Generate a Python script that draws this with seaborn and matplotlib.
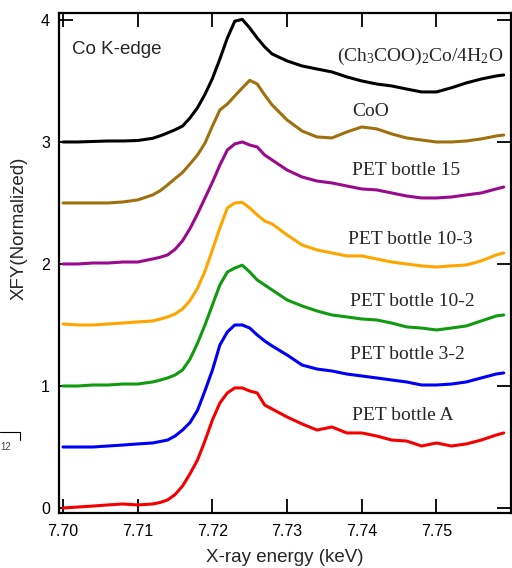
import numpy as np
import pandas as pd
import matplotlib
matplotlib.use("Agg")
import matplotlib.pyplot as plt
from matplotlib.lines import Line2D
import seaborn as sns

# ---------------- data ----------------
energy = [7.700, 7.702, 7.704, 7.706, 7.708, 7.710, 7.712, 7.713, 7.714, 7.715,
          7.716, 7.717, 7.718, 7.719,
          7.720, 7.721, 7.722, 7.723, 7.724, 7.725, 7.726, 7.727, 7.728,
          7.730, 7.732, 7.734, 7.736, 7.738, 7.740, 7.742, 7.744, 7.746, 7.748,
          7.750, 7.752, 7.754, 7.756, 7.758, 7.759]

acetate = [3.0, 3.0, 3.004, 3.008, 3.008, 3.012, 3.03, 3.05, 3.074, 3.10,
           3.13, 3.197, 3.28, 3.39,
           3.52, 3.68, 3.852, 3.99, 4.005, 3.934, 3.852, 3.779, 3.721,
           3.664, 3.623, 3.598, 3.574, 3.533, 3.5, 3.475, 3.459, 3.434, 3.41,
           3.41, 3.444, 3.484, 3.516, 3.541, 3.549]

coo = [2.5, 2.5, 2.5, 2.5, 2.508, 2.525, 2.566, 2.60, 2.648, 2.70,
       2.75, 2.82, 2.893, 2.99,
       3.13, 3.262, 3.311, 3.377, 3.443, 3.505, 3.475, 3.385, 3.303,
       3.18, 3.09, 3.041, 3.033, 3.082, 3.123, 3.107, 3.066, 3.033, 3.016,
       3.0, 3.0, 3.008, 3.025, 3.049, 3.057]

pet15 = [2.0, 2.0, 2.008, 2.008, 2.016, 2.016, 2.041, 2.055, 2.074, 2.12,
         2.19, 2.29, 2.41, 2.54,
         2.67, 2.811, 2.934, 2.984, 3.0, 2.975, 2.959, 2.893, 2.852,
         2.77, 2.713, 2.68, 2.664, 2.639, 2.615, 2.607, 2.582, 2.557, 2.541,
         2.541, 2.549, 2.566, 2.582, 2.615, 2.631]

pet10_3 = [1.508, 1.5, 1.5, 1.508, 1.516, 1.525, 1.533, 1.548, 1.566, 1.59,
           1.631, 1.70, 1.80, 1.94,
           2.115, 2.295, 2.459, 2.5, 2.505, 2.459, 2.402, 2.352, 2.328,
           2.238, 2.156, 2.115, 2.09, 2.066, 2.066, 2.041, 2.016, 2.0, 1.984,
           1.975, 1.984, 1.992, 2.025, 2.074, 2.09]

pet10_2 = [1.0, 1.0, 1.008, 1.008, 1.016, 1.016, 1.033, 1.048, 1.066, 1.09,
           1.131, 1.22, 1.35, 1.50,
           1.664, 1.828, 1.934, 1.967, 1.99, 1.934, 1.869, 1.828, 1.787,
           1.705, 1.656, 1.615, 1.582, 1.566, 1.549, 1.541, 1.516, 1.484, 1.475,
           1.459, 1.475, 1.492, 1.533, 1.574, 1.582]

pet3_2 = [0.5, 0.5, 0.5, 0.508, 0.516, 0.525, 0.533, 0.545, 0.557, 0.59,
          0.639, 0.70, 0.80, 0.96,
          1.13, 1.336, 1.443, 1.5, 1.5, 1.475, 1.418, 1.369, 1.328,
          1.254, 1.172, 1.139, 1.123, 1.098, 1.082, 1.066, 1.049, 1.033, 1.008,
          1.008, 1.016, 1.033, 1.066, 1.098, 1.107]

petA = [0.0, 0.008, 0.016, 0.025, 0.033, 0.025, 0.033, 0.045, 0.066, 0.11,
        0.18, 0.28, 0.393, 0.55,
        0.721, 0.861, 0.943, 0.984, 0.984, 0.959, 0.943, 0.844, 0.811,
        0.746, 0.689, 0.639, 0.664, 0.615, 0.615, 0.59, 0.557, 0.549, 0.508,
        0.533, 0.508, 0.525, 0.557, 0.598, 0.615]

series_names = ["(Ch3COO)2Co/4H2O", "CoO", "PET bottle 15", "PET bottle 10-3",
                "PET bottle 10-2", "PET bottle 3-2", "PET bottle A"]
series_values = [acetate, coo, pet15, pet10_3, pet10_2, pet3_2, petA]
series_colors = ["#000000", "#A0700F", "#990A8C", "#FFA500",
                 "#109A10", "#0000F5", "#F50000"]

label_texts = [r"(Ch$_3$COO)$_2$Co/4H$_2$O", "CoO", "PET bottle 15", "PET bottle 10-3",
               "PET bottle 10-2", "PET bottle 3-2", "PET bottle A"]
label_x = [7.7590, 7.7387, 7.7387, 7.7382, 7.7384, 7.7384, 7.7387]
label_y = [3.697, 3.246, 2.770, 2.197, 1.689, 1.254, 0.762]
label_ha = ["right", "left", "left", "left", "left", "left", "left"]

x_ticks = [7.70, 7.71, 7.72, 7.73, 7.74, 7.75]
x_tick_labels = ["7.70", "7.71", "7.72", "7.73", "7.74", "7.75"]
y_ticks = [0, 1, 2, 3, 4]
y_tick_labels = ["0", "1", "2", "3", "4"]

# ---------------- build frame ----------------
rows = []
for name, vals in zip(series_names, series_values):
    for e, v in zip(energy, vals):
        rows.append({"energy": e, "value": v, "sample": name})
df = pd.DataFrame(rows)

sns.set_style("ticks")
plt.rcParams["font.family"] = ["Liberation Sans", "DejaVu Sans"]
plt.rcParams["mathtext.fontset"] = "custom"
plt.rcParams["mathtext.rm"] = "Liberation Serif"
plt.rcParams["mathtext.it"] = "Liberation Serif:italic"
plt.rcParams["mathtext.bf"] = "Liberation Serif:bold"

fig = plt.figure(figsize=(5.12, 5.68), dpi=100)
ax = fig.add_axes([59 / 512, 1 - 513 / 568, (511 - 59) / 512, (513 - 13) / 568])

sns.lineplot(data=df, x="energy", y="value", hue="sample",
             hue_order=series_names, palette=series_colors,
             linewidth=2.2, legend=False, ax=ax, sort=False)

ax.set_xlim(7.69946, 7.75998)
ax.set_ylim(-0.041, 4.057)
ax.set_xticks(x_ticks)
ax.set_xticklabels(x_tick_labels)
ax.set_yticks(y_ticks)
ax.set_yticklabels(y_tick_labels)

ax.tick_params(axis="both", direction="in", length=10, width=1.3,
               top=True, right=True, labelsize=11.5, colors="black")
ax.tick_params(axis="x", pad=8)
ax.tick_params(axis="y", pad=6.5)
for s in ax.spines.values():
    s.set_linewidth(1.6)
    s.set_color("black")

ax.set_xlabel("X-ray energy (keV)", fontsize=13.5)
ax.set_ylabel("XFY(Normalized)", fontsize=13.5)
ax.xaxis.label.set_verticalalignment("center")
ax.xaxis.set_label_coords(0.5, -0.088)
ax.yaxis.label.set_verticalalignment("center")
ax.yaxis.set_label_coords(-0.0874, 0.57)

for t, x, y, ha in zip(label_texts, label_x, label_y, label_ha):
    ax.text(x, y, t, ha=ha, va="center", fontsize=14,
            family=["Liberation Serif", "DejaVu Serif"])

ax.text(7.7012, 3.754, "Co K-edge", ha="left", va="center", fontsize=13.5)

# small stray fragment at left edge of the reference
fig.text(0.0, 1 - 447 / 568, "12", fontsize=7, color="#444444", va="center", ha="left")
fig.add_artist(Line2D([0.0, 20 / 512, 20 / 512], [1 - 432 / 568, 1 - 432 / 568, 1 - 440 / 568],
                      transform=fig.transFigure, color="black", linewidth=0.8))

fig.savefig("out.png", dpi=100)
